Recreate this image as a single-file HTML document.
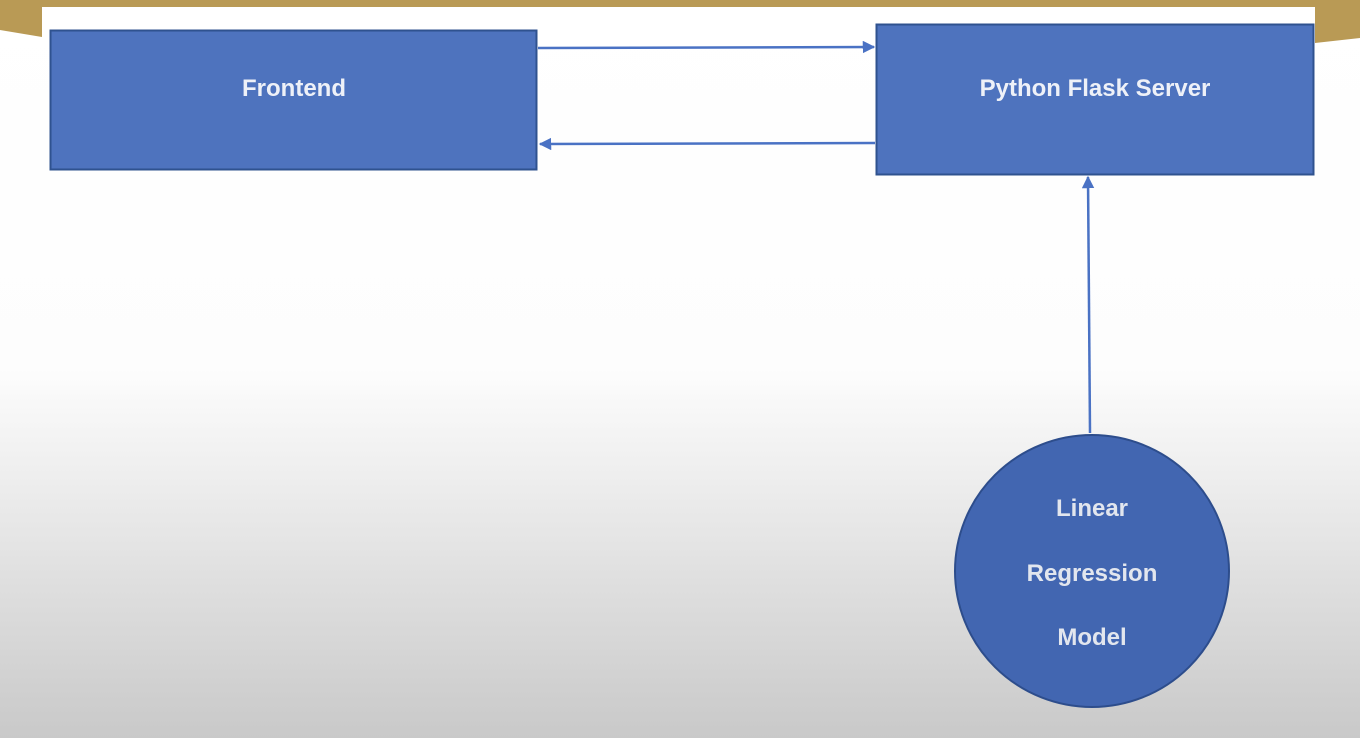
<!DOCTYPE html>
<html><head><meta charset="utf-8"><style>
html,body{margin:0;padding:0;width:1360px;height:738px;overflow:hidden}
svg{display:block}
text{font-family:"Liberation Sans",sans-serif;font-weight:bold;}
</style></head><body>
<svg width="1360" height="738" viewBox="0 0 1360 738" xmlns="http://www.w3.org/2000/svg">
<defs>
<linearGradient id="bg" x1="0" y1="0" x2="0" y2="1">
<stop offset="0" stop-color="#ffffff"/>
<stop offset="0.5" stop-color="#fdfdfd"/>
<stop offset="1" stop-color="#c9c9c9"/>
</linearGradient>
<marker id="ah" viewBox="0 0 10 10" refX="9" refY="5" markerWidth="5" markerHeight="5" orient="auto" markerUnits="strokeWidth">
<path d="M0,0 L10,5 L0,10 z" fill="#4a72c4"/>
</marker>
</defs>
<rect width="1360" height="738" fill="url(#bg)"/>
<rect x="0" y="0" width="1360" height="8" fill="#b99a55"/>
<polygon points="0,0 42,0 42,37 0,30" fill="#b99a55"/>
<polygon points="1315,0 1360,0 1360,38 1315,43" fill="#b99a55"/>
<rect x="42" y="7" width="1273" height="18" fill="#ffffff"/>
<rect x="50.5" y="30.5" width="486" height="139" fill="#4e73be" stroke="#2f528f" stroke-width="2"/>
<rect x="876.5" y="24.5" width="437" height="150" fill="#4e73be" stroke="#2f528f" stroke-width="2"/>
<text x="294" y="96" font-size="24" fill="#eef1f8" text-anchor="middle">Frontend</text>
<text x="1095" y="96" font-size="24" fill="#eef1f8" text-anchor="middle">Python Flask Server</text>
<line x1="538" y1="48" x2="874" y2="47" stroke="#4a72c4" stroke-width="2.5" marker-end="url(#ah)"/>
<line x1="875" y1="143" x2="540" y2="144" stroke="#4a72c4" stroke-width="2.5" marker-end="url(#ah)"/>
<line x1="1090" y1="433" x2="1088" y2="177" stroke="#4a72c4" stroke-width="2.5" marker-end="url(#ah)"/>
<ellipse cx="1092" cy="571" rx="137" ry="136" fill="#4266b1" stroke="#2d4d8c" stroke-width="2"/>
<text x="1092" y="516" font-size="24" fill="#e2e6ee" text-anchor="middle">Linear</text>
<text x="1092" y="581" font-size="24" fill="#e2e6ee" text-anchor="middle">Regression</text>
<text x="1092" y="645" font-size="24" fill="#e2e6ee" text-anchor="middle">Model</text>
</svg>
</body></html>
